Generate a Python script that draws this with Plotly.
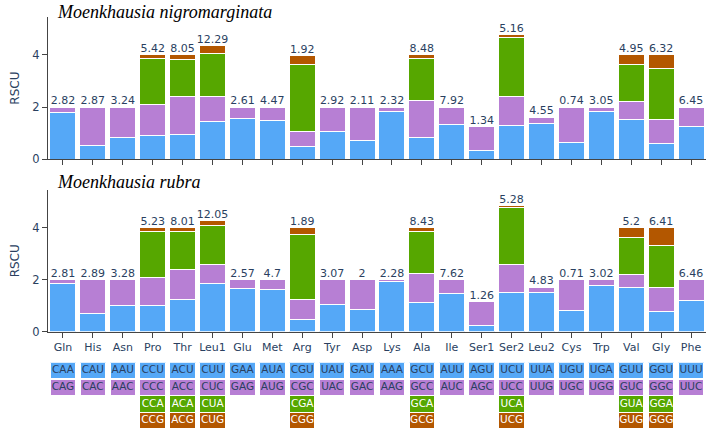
import plotly.graph_objects as go

categories = ["Gln","His","Asn","Pro","Thr","Leu1","Glu","Met","Arg","Tyr","Asp",
              "Lys","Ala","Ile","Ser1","Ser2","Leu2","Cys","Trp","Val","Gly","Phe"]

# Moenkhausia nigromarginata
n_blue   = [1.79,0.53,0.82,0.92,0.95,1.45,1.58,1.48,0.49,1.07,0.73,1.83,0.85,1.35,0.34,1.30,1.36,0.66,1.83,1.51,0.59,1.26]
n_purple = [0.21,1.47,1.18,1.19,1.45,0.95,0.42,0.52,0.58,0.93,1.27,0.17,1.42,0.65,0.90,1.10,0.26,1.34,0.17,0.70,0.95,0.74]
n_green  = [None,None,None,1.74,1.41,1.66,None,None,2.55,None,None,None,1.60,None,None,2.27,None,None,None,1.41,1.93,None]
n_orange = [None,None,None,0.15,0.19,0.29,None,None,0.35,None,None,None,0.12,None,None,0.10,None,None,None,0.38,0.53,None]
n_labels = ["2.82","2.87","3.24","5.42","8.05","12.29","2.61","4.47","1.92","2.92","2.11",
            "2.32","8.48","7.92","1.34","5.16","4.55","0.74","3.05","4.95","6.32","6.45"]

# Moenkhausia rubra
r_blue   = [1.86,0.71,1.00,1.00,1.22,1.86,1.67,1.63,0.48,1.05,0.84,1.93,1.13,1.45,0.24,1.52,1.49,0.81,1.76,1.71,0.77,1.20]
r_purple = [0.14,1.29,1.00,1.10,1.16,0.71,0.33,0.37,0.74,0.95,1.16,0.07,1.12,0.55,0.92,1.05,0.22,1.19,0.24,0.48,0.91,0.80]
r_green  = [None,None,None,1.77,1.48,1.51,None,None,2.51,None,None,None,1.61,None,None,2.20,None,None,None,1.42,1.64,None]
r_orange = [None,None,None,0.13,0.14,0.20,None,None,0.27,None,None,None,0.14,None,None,0.07,None,None,None,0.39,0.68,None]
r_labels = ["2.81","2.89","3.28","5.23","8.01","12.05","2.57","4.7","1.89","3.07","2",
            "2.28","8.43","7.62","1.26","5.28","4.83","0.71","3.02","5.2","6.41","6.46"]

codon1 = ["CAA","CAU","AAU","CCU","ACU","CUU","GAA","AUA","CGU","UAU","GAU","AAA","GCU","AUU","AGU","UCU","UUA","UGU","UGA","GUU","GGU","UUU"]
codon2 = ["CAG","CAC","AAC","CCC","ACC","CUC","GAG","AUG","CGC","UAC","GAC","AAG","GCC","AUC","AGC","UCC","UUG","UGC","UGG","GUC","GGC","UUC"]
codon3 = ["","","","CCA","ACA","CUA","","","CGA","","","","GCA","","","UCA","","","","GUA","GGA",""]
codon4 = ["","","","CCG","ACG","CUG","","","CGG","","","","GCG","","","UCG","","","","GUG","GGG",""]

colors = ["#55a8f7", "#b77fd4", "#56a700", "#b35700"]
textcol = "#2a3f5f"
FONT = "DejaVu Sans"

fig = go.Figure()

def add_panel(series, labels, xa, ya):
    for vals, col in zip(series, colors):
        fig.add_trace(go.Bar(x=categories, y=vals, marker=dict(color=col, line=dict(color="white", width=1)),
                             xaxis=xa, yaxis=ya, showlegend=False, hoverinfo="skip"))
    totals = [sum(v[i] for v in series if v[i] is not None) for i in range(len(categories))]
    fig.add_trace(go.Scatter(x=categories, y=totals, text=labels, mode="text", textposition="top center",
                             textfont=dict(size=11, color=textcol, family=FONT), xaxis=xa, yaxis=ya,
                             showlegend=False, hoverinfo="skip", cliponaxis=False))

add_panel([n_blue, n_purple, n_green, n_orange], n_labels, "x", "y")
add_panel([r_blue, r_purple, r_green, r_orange], r_labels, "x2", "y2")

# codon boxes
for k, (row, col) in enumerate(zip([codon1, codon2, codon3, codon4], colors)):
    vals = [1 if c else None for c in row]
    fig.add_trace(go.Bar(x=categories, y=vals,
                         marker=dict(color=col, line=dict(color="white", width=1.5)),
                         xaxis="x3", yaxis="y3", showlegend=False, hoverinfo="skip"))
for k, (row, col) in enumerate(zip([codon1, codon2, codon3, codon4], colors)):
    tc = textcol if k < 2 else "white"
    xs = [c for c, t in zip(categories, row) if t]
    ts = [t for t in row if t]
    fig.add_trace(go.Scatter(x=xs, y=[k + 0.5] * len(xs), text=ts, mode="text", textposition="middle center",
                             textfont=dict(size=10.5, color=tc, family=FONT),
                             xaxis="x3", yaxis="y3", showlegend=False, hoverinfo="skip", cliponaxis=False))

xr = [-0.5, 21.5]
xdom = [48/709, 706/709]
common_x = dict(range=xr, domain=xdom, showgrid=False, zeroline=False, showline=True, linecolor="#444",
                linewidth=1, ticks="outside", ticklen=5, tickcolor="#444",
                tickfont=dict(size=11, color=textcol, family=FONT))
common_y = dict(range=[0, 5.45], showgrid=False, zeroline=False, showline=True, linecolor="#444",
                linewidth=1, ticks="outside", ticklen=5, tickcolor="#444", tickvals=[0, 2, 4],
                tickfont=dict(size=11.5, color=textcol, family=FONT),
                title=dict(text="RSCU", font=dict(size=12, color=textcol, family=FONT), standoff=10))

fig.update_layout(
    width=709, height=442, margin=dict(l=0, r=0, t=0, b=0),
    paper_bgcolor="white", plot_bgcolor="white", barmode="stack", bargap=0.13,
    xaxis=dict(**common_x, anchor="y", showticklabels=False),
    yaxis=dict(**common_y, domain=[1-162/442, 1-17/442], anchor="x"),
    xaxis2=dict(**common_x, anchor="y2"),
    yaxis2=dict(**common_y, domain=[1-337/442, 1-193/442], anchor="x2"),
    xaxis3=dict(range=xr, domain=xdom, visible=False, anchor="y3"),
    yaxis3=dict(range=[4, 0], domain=[1-436/442, 1-368/442], visible=False, anchor="x3"),
    annotations=[
        dict(text="<i>Moenkhausia nigromarginata</i>", x=55/709, y=1-12/442, xref="paper", yref="paper",
             xanchor="left", yanchor="middle", showarrow=False,
             font=dict(size=18, color="black", family="Liberation Serif")),
        dict(text="<i>Moenkhausia rubra</i>", x=55/709, y=1-185/442, xref="paper", yref="paper",
             xanchor="left", yanchor="middle", showarrow=False,
             font=dict(size=18, color="black", family="Liberation Serif")),
    ],
)

fig.write_html("out.html")
